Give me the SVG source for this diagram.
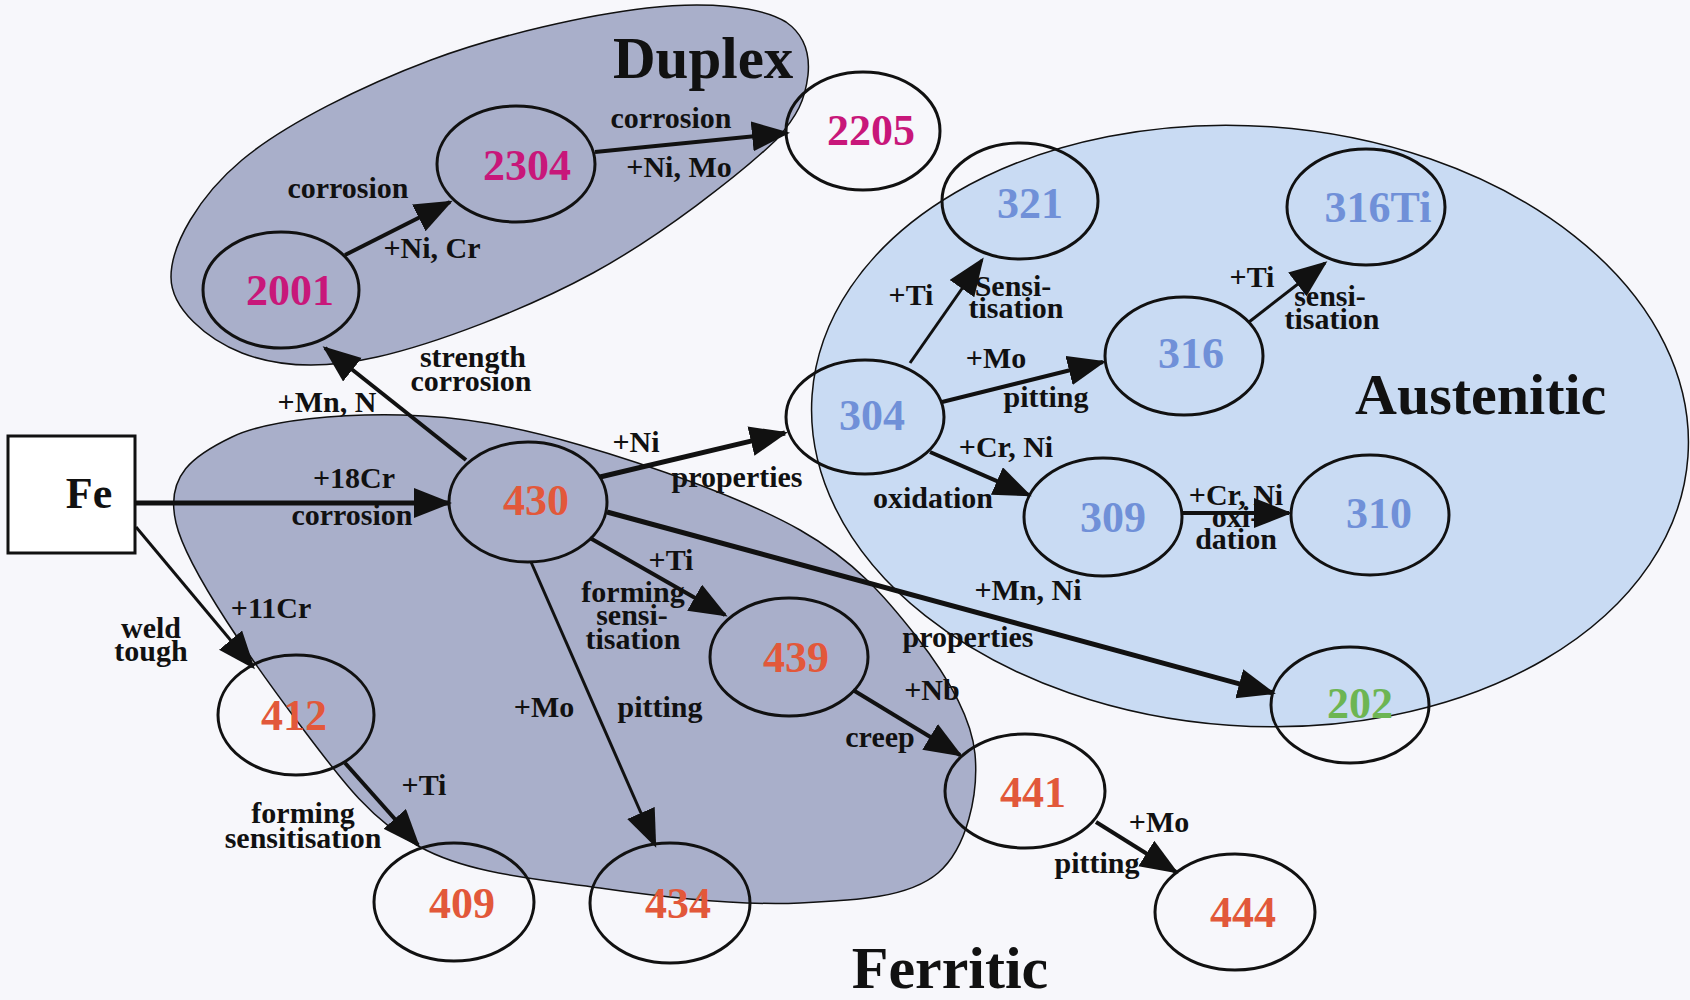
<svg xmlns="http://www.w3.org/2000/svg" width="1690" height="1000" viewBox="0 0 1690 1000">
<defs>
<style>
.region{stroke:#111;stroke-width:1.5}
.grey{fill:#a9afca}
.aust{fill:#c9dbf3}
.node ellipse{fill:none;stroke:#111;stroke-width:3}
.num{font-family:"Liberation Serif","Times New Roman",serif;font-weight:bold;font-size:44px;text-anchor:middle}
.mag{fill:#c8177a}.org{fill:#e2583a}.blu{fill:#7090d8}.grn{fill:#6db553}
.lbl{font-family:"Liberation Serif","Times New Roman",serif;font-weight:bold;font-size:30px;text-anchor:middle;fill:#111}
.title{font-family:"Liberation Serif","Times New Roman",serif;font-weight:bold;fill:#111}
.conn line{stroke:#111;stroke-width:4;marker-end:url(#ah)}
.conn line.thin{stroke-width:3}
.conn line.thick{stroke-width:5}
</style>
<marker id="ah" markerUnits="userSpaceOnUse" markerWidth="40" markerHeight="32" refX="35" refY="15" orient="auto">
<path d="M0,0 L38,15 L0,30 Z" fill="#111"/>
</marker>
</defs>
<rect x="0" y="0" width="1690" height="1000" fill="#f7f7fb"/>

<g id="regions">
<ellipse id="region-austenitic" class="region aust" cx="1250" cy="426" rx="439" ry="300" transform="rotate(4 1250 426)"/>
<path id="region-ferritic" class="region grey" d="M176,523 C164.7,475 194.3,455 232,437 C269.7,419 344,413.7 402,415 C460,416.3 513.7,425.8 580,445 C646.3,464.2 744,498.2 800,530 C856,561.8 886.8,598.7 916,636 C945.2,673.3 971.3,714.5 975,754 C978.7,793.5 967.2,848.2 938,873 C908.8,897.8 856.3,900.5 800,903 C743.7,905.5 663.3,897.3 600,888 C536.7,878.7 470,874.2 420,847 C370,819.8 340.7,779 300,725 C259.3,671 187.3,571 176,523 Z"/>
<path id="region-duplex" class="region grey" d="M171,277 C171,244.8 198.7,196.2 242,160 C285.3,123.8 363.5,85.3 431,60 C498.5,34.7 588.7,14.7 647,8 C705.3,1.3 760,6 786,22 C806,36 810,55 808,75 C805,100 798,115 776,140 C740.2,174.3 659.5,236.8 593,273 C526.5,309.2 435.5,343.7 377,357 C318.5,370.3 276.3,366.3 242,353 C207.7,339.7 171,309.2 171,277 Z"/>
<text class="title" x="613" y="78" font-size="59">Duplex</text>
<text class="title" x="1355" y="414" font-size="58">Austenitic</text>
<text class="title" x="950" y="988" font-size="60" text-anchor="middle">Ferritic</text>
</g>

<g id="connectors" class="conn">
<line class="thick" x1="136" y1="503" x2="449" y2="503"/>
<line class="thin" x1="136" y1="527" x2="253" y2="667"/>
<line x1="466" y1="460" x2="325" y2="348"/>
<line x1="345" y1="255" x2="450" y2="202"/>
<line x1="595" y1="152" x2="787" y2="133"/>
<line class="thick" x1="600" y1="477" x2="785" y2="433"/>
<line x1="590" y1="538" x2="725" y2="615"/>
<line class="thin" x1="531" y1="562" x2="655" y2="845"/>
<line class="thick" x1="607" y1="512" x2="1273" y2="693"/>
<line x1="345" y1="763" x2="418" y2="845"/>
<line x1="853" y1="690" x2="960" y2="755"/>
<line x1="1096" y1="822" x2="1176" y2="872"/>
<line class="thin" x1="910" y1="363" x2="982" y2="260"/>
<line x1="942" y1="402" x2="1103" y2="362"/>
<line class="thin" x1="1249" y1="322" x2="1325" y2="263"/>
<line x1="930" y1="452" x2="1029" y2="495"/>
<line x1="1183" y1="513" x2="1289" y2="513"/>
</g>

<g id="node-Fe"><rect x="8" y="436" width="127" height="117" fill="#fff" stroke="#111" stroke-width="3"/><text class="num" x="89" y="508" font-size="46" fill="#111">Fe</text></g>
<g id="node-2001" class="node"><ellipse cx="281" cy="290" rx="78" ry="58"/><text class="num mag" x="290" y="305">2001</text></g>
<g id="node-2304" class="node"><ellipse cx="516" cy="164" rx="79" ry="58"/><text class="num mag" x="527" y="180">2304</text></g>
<g id="node-2205" class="node"><ellipse cx="863" cy="131" rx="77" ry="59"/><text class="num mag" x="871" y="145">2205</text></g>
<g id="node-430" class="node"><ellipse cx="528" cy="502" rx="79" ry="60"/><text class="num org" x="536" y="515">430</text></g>
<g id="node-412" class="node"><ellipse cx="296" cy="715" rx="78" ry="60"/><text class="num org" x="294" y="730">412</text></g>
<g id="node-439" class="node"><ellipse cx="789" cy="657" rx="79" ry="59"/><text class="num org" x="796" y="672">439</text></g>
<g id="node-409" class="node"><ellipse cx="454" cy="902" rx="80" ry="59"/><text class="num org" x="462" y="918">409</text></g>
<g id="node-434" class="node"><ellipse cx="670" cy="903" rx="80" ry="60"/><text class="num org" x="678" y="918">434</text></g>
<g id="node-441" class="node"><ellipse cx="1025" cy="791" rx="80" ry="57"/><text class="num org" x="1033" y="807">441</text></g>
<g id="node-444" class="node"><ellipse cx="1235" cy="912" rx="80" ry="58"/><text class="num org" x="1243" y="927">444</text></g>
<g id="node-304" class="node"><ellipse cx="865" cy="417" rx="79" ry="57"/><text class="num blu" x="872" y="430">304</text></g>
<g id="node-321" class="node"><ellipse cx="1020" cy="201" rx="78" ry="58"/><text class="num blu" x="1030" y="218">321</text></g>
<g id="node-316" class="node"><ellipse cx="1184" cy="356" rx="79" ry="59"/><text class="num blu" x="1191" y="368">316</text></g>
<g id="node-316Ti" class="node"><ellipse cx="1366" cy="207" rx="79" ry="58"/><text class="num blu" x="1378" y="222">316Ti</text></g>
<g id="node-309" class="node"><ellipse cx="1103" cy="517" rx="79" ry="59"/><text class="num blu" x="1113" y="532">309</text></g>
<g id="node-310" class="node"><ellipse cx="1370" cy="515" rx="79" ry="60"/><text class="num blu" x="1379" y="528">310</text></g>
<g id="node-202" class="node"><ellipse cx="1350" cy="705" rx="79" ry="58"/><text class="num grn" x="1360" y="718">202</text></g>

<g id="labels" class="lbl">
<text x="348" y="198">corrosion</text>
<text x="432" y="258">+Ni, Cr</text>
<text x="671" y="128">corrosion</text>
<text x="679" y="177">+Ni, Mo</text>
<text x="473" y="367">strength</text>
<text x="471" y="391">corrosion</text>
<text x="327" y="412">+Mn, N</text>
<text x="354" y="488">+18Cr</text>
<text x="352" y="525">corrosion</text>
<text x="271" y="618">+11Cr</text>
<text x="151" y="638">weld</text>
<text x="151" y="661">tough</text>
<text x="424" y="795">+Ti</text>
<text x="303" y="823">forming</text>
<text x="303" y="848">sensitisation</text>
<text x="544" y="717">+Mo</text>
<text x="660" y="717">pitting</text>
<text x="671" y="570">+Ti</text>
<text x="633" y="602">forming</text>
<text x="632" y="625">sensi-</text>
<text x="633" y="649">tisation</text>
<text x="1028" y="600">+Mn, Ni</text>
<text x="968" y="647">properties</text>
<text x="932" y="700">+Nb</text>
<text x="880" y="747">creep</text>
<text x="1159" y="832">+Mo</text>
<text x="1097" y="873">pitting</text>
<text x="636" y="452">+Ni</text>
<text x="737" y="487">properties</text>
<text x="911" y="305">+Ti</text>
<text x="1013" y="296">Sensi-</text>
<text x="1016" y="318">tisation</text>
<text x="996" y="368">+Mo</text>
<text x="1046" y="407">pitting</text>
<text x="1252" y="287">+Ti</text>
<text x="1330" y="306">sensi-</text>
<text x="1332" y="329">tisation</text>
<text x="1006" y="457">+Cr, Ni</text>
<text x="933" y="508">oxidation</text>
<text x="1236" y="505">+Cr, Ni</text>
<text x="1236" y="527">oxi-</text>
<text x="1236" y="549">dation</text>
</g>
</svg>
